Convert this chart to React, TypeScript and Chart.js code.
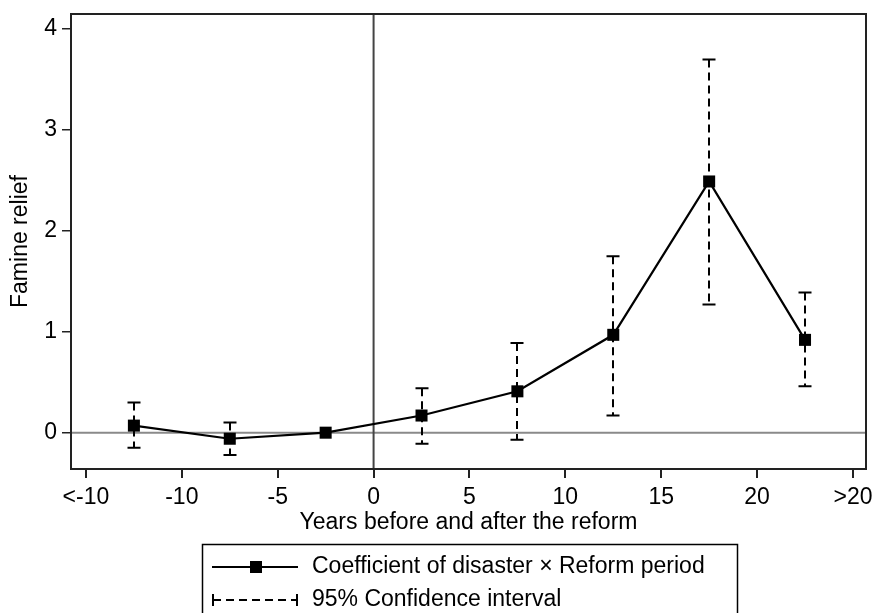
import React, { useEffect, useRef } from "react";
import { Chart, registerables } from "chart.js";

Chart.register(...registerables);

const periods = [-12.5, -7.5, -2.5, 2.5, 7.5, 12.5, 17.5, 22.5];
const coefficients = [0.07, -0.06, 0, 0.17, 0.41, 0.97, 2.49, 0.92];
const ciUpper: (number | null)[] = [0.3, 0.1, null, 0.44, 0.89, 1.75, 3.7, 1.39];
const ciLower: (number | null)[] = [-0.15, -0.22, null, -0.11, -0.07, 0.17, 1.27, 0.46];
const xTickValues = [-15, -10, -5, 0, 5, 10, 15, 20, 25];
const xTickLabels = ["<-10", "-10", "-5", "0", "5", "10", "15", "20", ">20"];
const yTickValues = [0, 1, 2, 3, 4];
const seriesLabel = "Coefficient of disaster × Reform period";
const ciLabel = "95% Confidence interval";

const FONT = "'Liberation Sans', Arial, sans-serif";
const FSIZE = 23;

const framePlugin = {
  id: "framePlugin",
  beforeDatasetsDraw(chart: any) {
    const { ctx, chartArea, scales } = chart;
    const x = scales.x;
    const y = scales.y;
    ctx.save();
    ctx.strokeStyle = "#8a8a8a";
    ctx.lineWidth = 2;
    ctx.beginPath();
    const y0 = y.getPixelForValue(0);
    ctx.moveTo(chartArea.left, y0);
    ctx.lineTo(chartArea.right, y0);
    ctx.stroke();
    ctx.strokeStyle = "#444";
    const x0 = x.getPixelForValue(0);
    ctx.beginPath();
    ctx.moveTo(x0, chartArea.top);
    ctx.lineTo(x0, chartArea.bottom);
    ctx.stroke();
    ctx.strokeStyle = "#000";
    ctx.lineWidth = 2;
    for (let i = 0; i < periods.length; i++) {
      const up = ciUpper[i];
      const lo = ciLower[i];
      if (up == null || lo == null) continue;
      const px = Math.round(x.getPixelForValue(periods[i]));
      const pu = y.getPixelForValue(up);
      const pl = y.getPixelForValue(lo);
      ctx.setLineDash([8, 5]);
      ctx.beginPath();
      ctx.moveTo(px, pu);
      ctx.lineTo(px, pl);
      ctx.stroke();
      ctx.setLineDash([]);
      ctx.beginPath();
      ctx.moveTo(px - 6.5, pu);
      ctx.lineTo(px + 6.5, pu);
      ctx.moveTo(px - 6.5, pl);
      ctx.lineTo(px + 6.5, pl);
      ctx.stroke();
    }
    ctx.restore();
  },
  afterDraw(chart: any) {
    const { ctx, chartArea } = chart;
    ctx.save();
    ctx.strokeStyle = "#222";
    ctx.lineWidth = 2;
    ctx.strokeRect(chartArea.left, chartArea.top, chartArea.right - chartArea.left, chartArea.bottom - chartArea.top);
    // legend
    const bx = 202, by = 544, bw = 535, bh = 80;
    ctx.lineWidth = 1.5;
    ctx.strokeStyle = "#000";
    ctx.strokeRect(bx + 0.5, by + 0.5, bw, bh);
    const r1 = 567, r2 = 600;
    ctx.lineWidth = 2;
    ctx.beginPath();
    ctx.moveTo(212, r1);
    ctx.lineTo(298, r1);
    ctx.stroke();
    ctx.fillStyle = "#000";
    ctx.fillRect(250, r1 - 6, 12, 12);
    ctx.setLineDash([8, 5]);
    ctx.beginPath();
    ctx.moveTo(213, r2);
    ctx.lineTo(297, r2);
    ctx.stroke();
    ctx.setLineDash([]);
    ctx.beginPath();
    ctx.moveTo(213, r2 - 6);
    ctx.lineTo(213, r2 + 6);
    ctx.moveTo(297, r2 - 6);
    ctx.lineTo(297, r2 + 6);
    ctx.stroke();
    ctx.font = `${FSIZE}px ${FONT}`;
    ctx.textBaseline = "middle";
    ctx.textAlign = "left";
    ctx.fillText(seriesLabel, 312, r1);
    ctx.fillText(ciLabel, 312, r2);
    ctx.restore();
  },
};

export default function App() {
  const ref = useRef<HTMLCanvasElement | null>(null);
  useEffect(() => {
    if (!ref.current) return;
    const chart = new Chart(ref.current, {
      type: "line",
      data: {
        datasets: [
          {
            label: seriesLabel,
            data: periods.map((p, i) => ({ x: p, y: coefficients[i] })),
            borderColor: "#000",
            backgroundColor: "#000",
            borderWidth: 2.2,
            pointStyle: "rect",
            pointRadius: 8.5,
            pointBorderWidth: 0,
            pointBackgroundColor: "#000",
            tension: 0,
          },
        ],
      },
      options: {
        animation: false,
        responsive: false,
        layout: { padding: { top: 14, right: 10, left: 0, bottom: 72 } },
        plugins: { legend: { display: false }, tooltip: { enabled: false } },
        scales: {
          x: {
            type: "linear",
            min: -15.78,
            max: 25.68,
            afterBuildTicks: (s: any) => {
              s.ticks = xTickValues.map((v) => ({ value: v }));
            },
            afterFit: (s: any) => {
              s.height = 72;
              s.paddingLeft = 0;
              s.paddingRight = 0;
            },
            ticks: {
              autoSkip: false,
              maxRotation: 0,
              padding: 6,
              color: "#000",
              font: { family: FONT, size: FSIZE },
              callback: (v: any) => {
                const i = xTickValues.indexOf(Number(v));
                return i >= 0 ? xTickLabels[i] : "";
              },
            },
            grid: { display: true, drawOnChartArea: false, drawTicks: true, tickLength: 9, color: "#222", lineWidth: 2 },
            border: { display: false },
            title: {
              display: true,
              text: "Years before and after the reform",
              color: "#000",
              font: { family: FONT, size: FSIZE },
              padding: { top: 0, bottom: 5 },
            },
          },
          y: {
            type: "linear",
            min: -0.36,
            max: 4.15,
            afterBuildTicks: (s: any) => {
              s.ticks = yTickValues.map((v) => ({ value: v }));
            },
            afterFit: (s: any) => {
              s.width = 71;
              s.paddingTop = 0;
              s.paddingBottom = 0;
            },
            ticks: {
              padding: 5,
              color: "#000",
              font: { family: FONT, size: FSIZE },
            },
            grid: { display: true, drawOnChartArea: false, drawTicks: true, tickLength: 9, color: "#222", lineWidth: 1.5 },
            border: { display: false },
            title: {
              display: true,
              text: "Famine relief",
              color: "#000",
              font: { family: FONT, size: FSIZE },
              padding: { top: 7, bottom: 0 },
            },
          },
        },
      },
      plugins: [framePlugin],
    } as any);
    return () => chart.destroy();
  }, []);
  return (
    <div style={{ position: "fixed", left: 0, top: 0, width: 876, height: 613, background: "#fff" }}>
      <canvas ref={ref} width={876} height={613} style={{ width: 876, height: 613, display: "block" }} />
    </div>
  );
}
